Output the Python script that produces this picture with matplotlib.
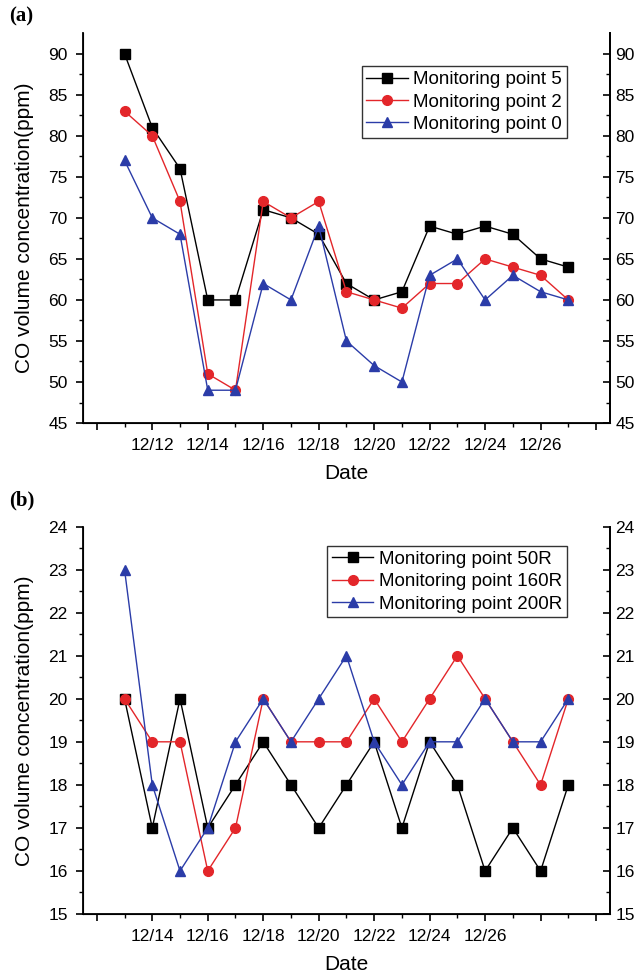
import matplotlib
matplotlib.use("Agg")
import matplotlib.pyplot as plt
import numpy as np

plt.rcParams['font.family'] = ['Liberation Sans', 'DejaVu Sans']

# panel (a): days of December
days_a = [11, 12, 13, 14, 15, 16, 17, 18, 19, 20, 21, 22, 23, 24, 25, 26, 27]
point5 = [90, 81, 76, 60, 60, 71, 70, 68, 62, 60, 61, 69, 68, 69, 68, 65, 64]
point2 = [83, 80, 72, 51, 49, 72, 70, 72, 61, 60, 59, 62, 62, 65, 64, 63, 60]
point0 = [77, 70, 68, 49, 49, 62, 60, 69, 55, 52, 50, 63, 65, 60, 63, 61, 60]
ticks_a = [10, 12, 14, 16, 18, 20, 22, 24, 26, 28]
labels_a = ['', '12/12', '12/14', '12/16', '12/18', '12/20', '12/22', '12/24', '12/26', '']

# panel (b)
days_b = [13, 14, 15, 16, 17, 18, 19, 20, 21, 22, 23, 24, 25, 26, 27, 28, 29]
point50r = [20, 17, 20, 17, 18, 19, 18, 17, 18, 19, 17, 19, 18, 16, 17, 16, 18]
point160r = [20, 19, 19, 16, 17, 20, 19, 19, 19, 20, 19, 20, 21, 20, 19, 18, 20]
point200r = [23, 18, 16, 17, 19, 20, 19, 20, 21, 19, 18, 19, 19, 20, 19, 19, 20]
ticks_b = [12, 14, 16, 18, 20, 22, 24, 26, 28, 30]
labels_b = ['', '12/14', '12/16', '12/18', '12/20', '12/22', '12/24', '12/26', '', '']

RED = '#e3262a'
BLUE = '#2b3ca8'
FS = 12.5       # tick labels
FS_LAB = 15     # axis titles
FS_LEG = 13.5   # legend


def style_panel(ax, xlim, ylim, yticks, xticks, xlabels):
    ax.set_xlim(*xlim)
    ax.set_ylim(*ylim)
    ax.set_xticks(xticks)
    ax.set_xticklabels(xlabels)
    ax.set_xticks(np.arange(xticks[0] + 1, xticks[-1], 2), minor=True)
    ax.set_yticks(yticks)
    ax.set_yticks(np.arange(yticks[0], yticks[-1], (yticks[1] - yticks[0]) / 2.0), minor=True)
    ax.spines['top'].set_visible(False)
    for s in ('left', 'bottom', 'right'):
        ax.spines[s].set_linewidth(1.3)
    ax.tick_params(which='major', direction='out', length=5, width=1.2, labelsize=FS)
    ax.tick_params(which='minor', direction='out', length=3, width=1.0)
    ax.tick_params(axis='x', pad=6)
    ax.tick_params(axis='y', pad=6)
    ax.set_xlabel('Date', fontsize=FS_LAB, labelpad=8)
    ax.set_ylabel('CO volume concentration(ppm)', fontsize=FS_LAB, labelpad=10)

    # right axis, ticks pointing into the plot
    ax2 = ax.twinx()
    ax2.set_ylim(*ylim)
    ax2.set_yticks(yticks)
    ax2.set_yticks(ax.get_yticks(minor=True), minor=True)
    ax2.spines['top'].set_visible(False)
    ax2.spines['right'].set_linewidth(1.3)
    ax2.tick_params(which='major', direction='in', length=5, width=1.2, labelsize=FS, pad=4)
    ax2.tick_params(which='minor', direction='in', length=3, width=1.0)
    return ax2


def add_legend(ax, anchor):
    leg = ax.legend(loc='upper right', bbox_to_anchor=anchor, fontsize=FS_LEG, frameon=True,
                    fancybox=False, edgecolor='black', borderpad=0.25, labelspacing=0.28,
                    handlelength=2.2, handletextpad=0.3, borderaxespad=0)
    leg.get_frame().set_linewidth(1.0)
    return leg


fig = plt.figure(figsize=(6.38, 9.77), dpi=100)

# ---- panel (a)
ax_a = fig.add_axes([0.130, 0.567, 0.826, 0.399])
ax_a.plot(days_a, point5, color='black', lw=1.0, marker='s', ms=6.5, label='Monitoring point 5')
ax_a.plot(days_a, point2, color=RED, lw=1.0, marker='o', ms=7, label='Monitoring point 2')
ax_a.plot(days_a, point0, color=BLUE, lw=1.0, marker='^', ms=7.5, label='Monitoring point 0')
style_panel(ax_a, (9.5, 28.5), (45, 92.5), list(range(45, 91, 5)), ticks_a, labels_a)
add_legend(ax_a, (0.918, 0.915))

# ---- panel (b)
ax_b = fig.add_axes([0.130, 0.0645, 0.826, 0.3965])
ax_b.plot(days_b, point50r, color='black', lw=1.0, marker='s', ms=6.5, label='Monitoring point 50R')
ax_b.plot(days_b, point160r, color=RED, lw=1.0, marker='o', ms=7, label='Monitoring point 160R')
ax_b.plot(days_b, point200r, color=BLUE, lw=1.0, marker='^', ms=7.5, label='Monitoring point 200R')
style_panel(ax_b, (11.5, 30.5), (15, 24), list(range(15, 25)), ticks_b, labels_b)
add_legend(ax_b, (0.918, 0.95))

fig.text(0.015, 0.983, '(a)', fontsize=15, fontweight='bold', family='Liberation Serif', va='center')
fig.text(0.015, 0.488, '(b)', fontsize=15, fontweight='bold', family='Liberation Serif', va='center')

fig.savefig('out.png', dpi=100)
